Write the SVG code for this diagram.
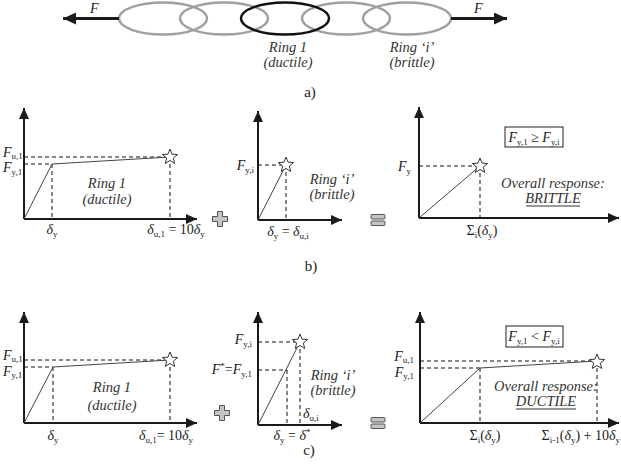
<svg xmlns="http://www.w3.org/2000/svg" xmlns:xlink="http://www.w3.org/1999/xlink" width="621" height="476" viewBox="0 0 621 476">
<style>
.ax{stroke:#1a1a1a;stroke-width:2;fill:none}
.cv{stroke:#444;stroke-width:1;fill:none}
.ds{stroke:#111;stroke-width:1;stroke-dasharray:4 3;fill:none}
.ring{fill:none;stroke:#a0a0a0;stroke-width:2.5}
.ringk{fill:none;stroke:#111;stroke-width:2.5}
.force{stroke:#1a1a1a;stroke-width:3;fill:none}
.t{font-family:"Liberation Serif",serif;font-style:italic;font-size:14.5px;fill:#333}
.m{font-family:"Liberation Serif",serif;font-style:italic;font-size:14px;fill:#222}
.s{font-size:9px;font-style:normal}
.n{font-style:normal}
.lab{font-family:"Liberation Serif",serif;font-size:15px;fill:#222}
.box{fill:#fff;stroke:#222;stroke-width:1}
.star{fill:#fff;stroke:#333;stroke-width:1}
.sym{fill:#c4c4c4;stroke:#555;stroke-width:1}
.ul{stroke:#333;stroke-width:1}
</style>
<defs>
<marker id="ah" markerUnits="userSpaceOnUse" markerWidth="11" markerHeight="10" refX="11" refY="5" orient="auto"><path d="M0,0 L11,5 L0,10 z" fill="#1a1a1a"/></marker>
<marker id="fh" markerUnits="userSpaceOnUse" markerWidth="13" markerHeight="12" refX="13" refY="6" orient="auto"><path d="M0,0 L13,6 L0,12 z" fill="#1a1a1a"/></marker>
<polygon id="st" class="star" points="0,-8 2.06,-2.83 7.61,-2.47 3.33,1.08 4.7,6.47 0,3.5 -4.7,6.47 -3.33,1.08 -7.61,-2.47 -2.06,-2.83"/>
<path id="plus" class="sym" d="M-2.5,-7.5 h5 v5 h5 v5 h-5 v5 h-5 v-5 h-5 v-5 h5 z"/>
<g id="eq"><rect class="sym" x="-7" y="-5.5" width="14" height="4.5" rx="1"/><rect class="sym" x="-7" y="1" width="14" height="4.5" rx="1"/></g>
</defs>

<!-- a) chain -->
<g id="chain">
<g id="ring2"><ellipse class="ring" cx="163" cy="18.5" rx="44" ry="16"/></g>
<g id="ring3"><ellipse class="ring" cx="224" cy="18.5" rx="44" ry="16"/></g>
<g id="ring4"><ellipse class="ring" cx="346" cy="18.5" rx="44" ry="16"/></g>
<g id="ringi"><ellipse class="ring" cx="407" cy="18.5" rx="44" ry="16"/></g>
<g id="ring1"><ellipse class="ringk" cx="285" cy="18.5" rx="44" ry="16"/></g>
</g>
<g id="connectors">
<line class="force" x1="119" y1="18.5" x2="63" y2="18.5" marker-end="url(#fh)"/>
<line class="force" x1="451" y1="18.5" x2="507" y2="18.5" marker-end="url(#fh)"/>
</g>
<g id="labels-a">
<text class="m" x="90" y="13">F</text>
<text class="m" x="474" y="13">F</text>
<text class="t" x="288" y="52" text-anchor="middle">Ring 1</text>
<text class="t" x="288" y="67" text-anchor="middle">(ductile)</text>
<text class="t" x="412" y="52" text-anchor="middle">Ring ‘i’</text>
<text class="t" x="412" y="67" text-anchor="middle">(brittle)</text>
<text class="lab" x="310" y="97" text-anchor="middle">a)</text>
</g>

<!-- b1 -->
<g id="b1">
<line class="ax" x1="24" y1="219" x2="24" y2="108" marker-end="url(#ah)"/>
<line class="ax" x1="24" y1="219" x2="197" y2="219" marker-end="url(#ah)"/>
<path class="ds" d="M24,157 H170 M24,164 H52 M52,164 V219 M170,157 V219"/>
<polyline class="cv" points="24,219 52,164 170,157"/>
<use xlink:href="#st" x="170" y="157"/>
<text class="m" x="3" y="157">F<tspan class="s" dy="2">u,1</tspan></text>
<text class="m" x="3" y="172">F<tspan class="s" dy="3">y,1</tspan></text>
<text class="t" x="107" y="188" text-anchor="middle">Ring 1</text>
<text class="t" x="107" y="204" text-anchor="middle">(ductile)</text>
<text class="m" x="52" y="234" text-anchor="middle">δ<tspan class="s" dy="3">y</tspan></text>
<text class="m" x="176" y="234" text-anchor="middle">δ<tspan class="s" dy="3">u,1</tspan><tspan class="n" dy="-3"> = 10</tspan>δ<tspan class="s" dy="3">y</tspan></text>
</g>
<g id="plus-b"><use xlink:href="#plus" x="220" y="219"/></g>

<!-- b2 -->
<g id="b2">
<line class="ax" x1="258" y1="220" x2="258" y2="111" marker-end="url(#ah)"/>
<line class="ax" x1="258" y1="220" x2="342" y2="220" marker-end="url(#ah)"/>
<path class="ds" d="M258,165 H286 M286,165 V220"/>
<line class="cv" x1="258" y1="220" x2="286" y2="165"/>
<use xlink:href="#st" x="286" y="165"/>
<text class="m" x="254" y="170" text-anchor="end">F<tspan class="s" dy="3">y,i</tspan></text>
<text class="t" x="332" y="184" text-anchor="middle">Ring ‘i’</text>
<text class="t" x="332" y="199" text-anchor="middle">(brittle)</text>
<text class="m" x="288" y="236" text-anchor="middle">δ<tspan class="s" dy="3">y</tspan><tspan class="n" dy="-3"> = </tspan>δ<tspan class="s" dy="3">u,i</tspan></text>
</g>
<g id="eq-b"><use xlink:href="#eq" x="378" y="220"/></g>

<!-- b3 -->
<g id="b3">
<line class="ax" x1="419" y1="218" x2="419" y2="107" marker-end="url(#ah)"/>
<line class="ax" x1="419" y1="218" x2="619" y2="218" marker-end="url(#ah)"/>
<path class="ds" d="M419,166 H480 M480,166 V218"/>
<line class="cv" x1="419" y1="218" x2="480" y2="166"/>
<use xlink:href="#st" x="480" y="166"/>
<text class="m" x="398" y="171">F<tspan class="s" dy="3">y</tspan></text>
<rect class="box" x="505" y="127" width="58" height="20"/>
<text class="m" x="534" y="142" text-anchor="middle">F<tspan class="s" dy="3">y,1</tspan><tspan class="n" dy="-3"> ≥ </tspan>F<tspan class="s" dy="3">y,i</tspan></text>
<text class="t" x="553" y="188" text-anchor="middle">Overall response:</text>
<text class="t" x="553" y="203" text-anchor="middle">BRITTLE</text>
<line class="ul" x1="526" y1="206" x2="580" y2="206"/>
<text class="m" x="482" y="235" text-anchor="middle"><tspan class="n">Σ</tspan><tspan class="s" dy="3">i</tspan><tspan class="n" dy="-3">(</tspan>δ<tspan class="s" dy="3">y</tspan><tspan class="n" dy="-3">)</tspan></text>
</g>
<text class="lab" x="311" y="271" text-anchor="middle">b)</text>

<!-- c1 -->
<g id="c1">
<line class="ax" x1="24" y1="423" x2="24" y2="312" marker-end="url(#ah)"/>
<line class="ax" x1="24" y1="423" x2="197" y2="423" marker-end="url(#ah)"/>
<path class="ds" d="M24,360 H170 M24,367 H53 M53,367 V423 M170,360 V423"/>
<polyline class="cv" points="24,423 53,367 170,360"/>
<use xlink:href="#st" x="170" y="360"/>
<text class="m" x="3" y="360" font-size="13">F<tspan class="s" dy="2">u,1</tspan></text>
<text class="m" x="3" y="376" font-size="13">F<tspan class="s" dy="2">y,1</tspan></text>
<text class="t" x="112" y="392" text-anchor="middle">Ring 1</text>
<text class="t" x="112" y="410" text-anchor="middle">(ductile)</text>
<text class="m" x="53" y="440" text-anchor="middle">δ<tspan class="s" dy="3">y</tspan></text>
<text class="m" x="166" y="440" text-anchor="middle">δ<tspan class="s" dy="3">u,1</tspan><tspan class="n" dy="-3">= 10</tspan>δ<tspan class="s" dy="3">y</tspan></text>
</g>
<g id="plus-c"><use xlink:href="#plus" x="222" y="413"/></g>

<!-- c2 -->
<g id="c2">
<line class="ax" x1="258" y1="425" x2="258" y2="312" marker-end="url(#ah)"/>
<line class="ax" x1="258" y1="425" x2="342" y2="425" marker-end="url(#ah)"/>
<path class="ds" d="M258,342 H300 M258,370 H287 M287,370 V425 M300,342 V425"/>
<line class="cv" x1="258" y1="425" x2="300" y2="342"/>
<use xlink:href="#st" x="300" y="342"/>
<text class="m" x="252" y="344" text-anchor="end">F<tspan class="s" dy="3">y,i</tspan></text>
<text class="m" x="252" y="374" text-anchor="end">F<tspan class="s" dy="-5">*</tspan><tspan class="n" dy="5">=</tspan>F<tspan class="s" dy="3">y,1</tspan></text>
<text class="t" x="333" y="380" text-anchor="middle">Ring ‘i’</text>
<text class="t" x="333" y="395" text-anchor="middle">(brittle)</text>
<text class="m" x="303" y="418">δ<tspan class="s" dy="3">u,i</tspan></text>
<text class="m" x="292" y="440" text-anchor="middle">δ<tspan class="s" dy="3">y</tspan><tspan class="n" dy="-3"> = </tspan>δ<tspan class="s" dy="-5">*</tspan></text>
</g>
<g id="eq-c"><use xlink:href="#eq" x="378" y="423"/></g>

<!-- c3 -->
<g id="c3">
<line class="ax" x1="420" y1="423" x2="420" y2="312" marker-end="url(#ah)"/>
<line class="ax" x1="420" y1="423" x2="619" y2="423" marker-end="url(#ah)"/>
<path class="ds" d="M420,361 H597 M420,368 H480 M480,368 V423 M597,361 V423"/>
<polyline class="cv" points="420,423 480,368 597,361"/>
<use xlink:href="#st" x="597" y="362"/>
<text class="m" x="414" y="361" text-anchor="end" font-size="13">F<tspan class="s" dy="2">u,1</tspan></text>
<text class="m" x="414" y="377" text-anchor="end" font-size="13">F<tspan class="s" dy="2">y,1</tspan></text>
<rect class="box" x="506" y="326" width="57" height="21"/>
<text class="m" x="534" y="341" text-anchor="middle">F<tspan class="s" dy="3">y,1</tspan><tspan class="n" dy="-3"> &lt; </tspan>F<tspan class="s" dy="3">y,i</tspan></text>
<text class="t" x="546" y="391" text-anchor="middle">Overall response:</text>
<text class="t" x="546" y="406" text-anchor="middle">DUCTILE</text>
<line class="ul" x1="516" y1="409" x2="576" y2="409"/>
<text class="m" x="485" y="440" text-anchor="middle"><tspan class="n">Σ</tspan><tspan class="s" dy="3">i</tspan><tspan class="n" dy="-3">(</tspan>δ<tspan class="s" dy="3">y</tspan><tspan class="n" dy="-3">)</tspan></text>
<text class="m" x="620" y="440" text-anchor="end"><tspan class="n">Σ</tspan><tspan class="s" dy="3">i-1</tspan><tspan class="n" dy="-3">(</tspan>δ<tspan class="s" dy="3">y</tspan><tspan class="n" dy="-3">) + 10</tspan>δ<tspan class="s" dy="3">y</tspan></text>
</g>
<text class="lab" x="309" y="455" text-anchor="middle">c)</text>
</svg>
